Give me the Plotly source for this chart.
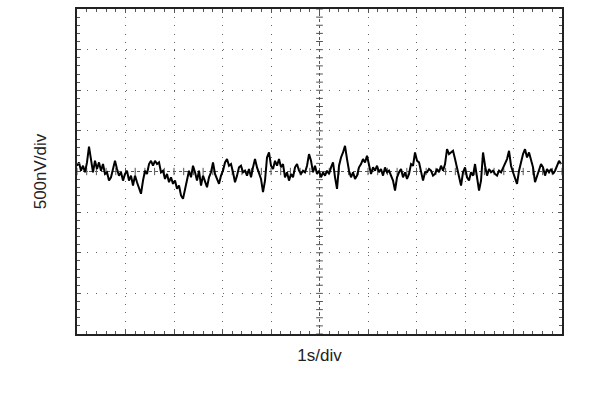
import numpy as np
import plotly.graph_objects as go

seg1 = [71, 112, 10, 71, -10, 112, 307, 153, -10, 132, 31, 112, 10, 92, -30, -10, -112, -71, 31, 132,
        31, -51, -10, -112, -30, 10, -112, -51, -173, -51, -132, -213, -274, -112, 10]
seg2 = [-30, 92, 132, 71, 132, 92, 112, -10, 10, -91, -30, -132, -71, -152, -112, -213, -173, -295, -336, -213,
        -132, 10, -71, 71, -10, -112, 10, -173, -51, -132, -193, -71, -10, 112, -30]
seg3 = [-91, -152, -51, 10, 112, 153, 71, 92, -10, -132, -51, 51, 71, -10, 10, -51, 31, -71, 51, 153,
        51, -30, -91, -254, -112, 173, 234, 71, 31, 132, 71, 153, 51, 92, -71]
seg4 = [-10, -112, -30, -71, 51, 92, 10, -30, 10, -10, 71, 214, 132, -10, 71, -30, 10, -71, -10, -51,
        10, -30, 51, 112, -71, -213, 71, 173, 234, 316, 153, 10, -71, -10, -91]
seg5 = [-51, 51, 92, 153, 112, 194, 92, -30, 51, 10, 71, -10, 31, -51, 51, -10, 10, -51, -112, -234,
        -71, -10, 31, -71, -10, -91, -30, 92, 71, 234, 132, 112, 10, -112, -10]
seg6 = [-10, 31, 10, -51, -30, 31, -10, 71, 10, 92, 275, 214, 234, 255, 153, 31, -91, -173, -10, 51,
        -71, -112, -10, -51, 92, -91, -234, -112, 234, 71, -51, 31, -10, 10, -30]
seg7 = [-51, 10, -10, 51, 92, 153, 255, 71, -10, -91, -152, 10, 112, 214, 275, 173, 234, 132, 51, -132,
        -51, 31, 92, 51, -51, 31, -10, 31, -30, 10, 71, 132, 92]

noise_nV = seg1 + seg2 + seg3 + seg4 + seg5 + seg6 + seg7
dt_s = 0.04124
time_s = [i * dt_s for i in range(len(noise_nV))]

x_major = list(range(0, 11))          # seconds, 1 s/div
y_major = list(range(-2000, 2001, 500))  # nV, 500 nV/div

fig = go.Figure()
fig.add_trace(go.Scatter(x=time_s, y=noise_nV, mode="lines",
                         line=dict(color="black", width=2), hoverinfo="skip",
                         showlegend=False))

shapes = []
# center cross lines
shapes.append(dict(type="line", xref="x", yref="y", x0=0, x1=10, y0=0, y1=0,
                   line=dict(color="#555", width=1, dash="dot"), layer="below"))
shapes.append(dict(type="line", xref="x", yref="y", x0=5, x1=5, y0=-2000, y1=2000,
                   line=dict(color="#555", width=1, dash="dot"), layer="below"))
# minor ticks on the center cross
for xv in np.arange(0, 10.001, 0.2):
    shapes.append(dict(type="line", xref="x", yref="y", x0=xv, x1=xv, y0=-45, y1=45,
                       line=dict(color="#555", width=1), layer="below"))
for yv in np.arange(-2000, 2001, 100):
    shapes.append(dict(type="line", xref="x", yref="y", x0=4.93, x1=5.07, y0=yv, y1=yv,
                       line=dict(color="#555", width=1), layer="below"))
fig.update_layout(shapes=shapes)

fig.update_layout(
    width=608, height=418,
    margin=dict(l=77, r=46, t=7, b=84),
    paper_bgcolor="white", plot_bgcolor="white",
    font=dict(family="Liberation Sans, Arial, sans-serif", size=17, color="#222"),
    showlegend=False,
)
fig.update_xaxes(
    range=[0, 10], tickvals=x_major, showticklabels=False,
    showgrid=True, gridcolor="#666", gridwidth=1, griddash="1px,7.2px",
    zeroline=False, showline=True, linecolor="#222", linewidth=2, mirror="allticks",
    ticks="inside", ticklen=4, tickcolor="#555",
    minor=dict(dtick=0.2, ticks="inside", ticklen=3, tickcolor="#555", showgrid=False),
    title=dict(text="1s/div", standoff=14, font=dict(size=17)),
)
fig.update_yaxes(
    range=[-2000, 2000], tickvals=y_major, showticklabels=False,
    showgrid=True, gridcolor="#666", gridwidth=1, griddash="1px,8.7px",
    zeroline=False, showline=True, linecolor="#222", linewidth=2, mirror="allticks",
    ticks="inside", ticklen=4, tickcolor="#555",
    minor=dict(dtick=100, ticks="inside", ticklen=3, tickcolor="#555", showgrid=False),
    title=dict(text="500nV/div", standoff=24, font=dict(size=17)),
)

fig.write_html("out.html")
